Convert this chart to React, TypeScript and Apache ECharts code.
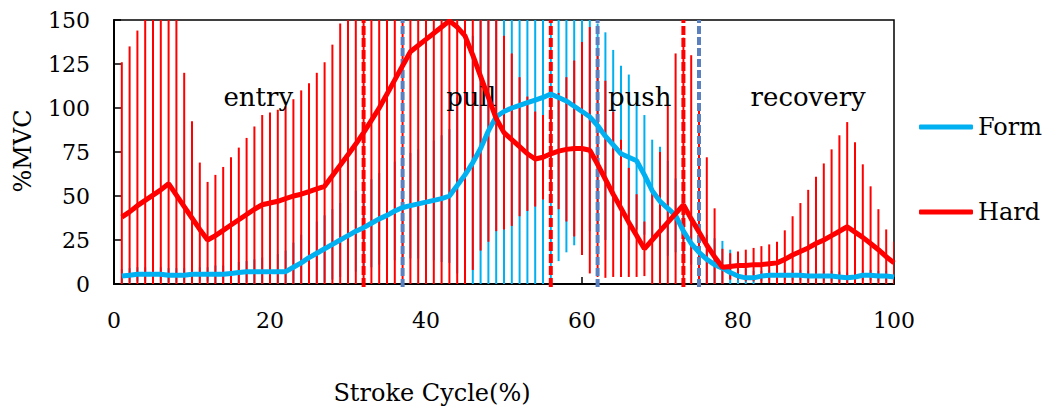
import React, { useEffect, useRef } from "react";
import * as echarts from "echarts";

// Stroke cycle positions (%), one sample per percent
const strokeCycle: number[] = Array.from({ length: 100 }, (_, i) => i + 1);

// Form (mean %MVC and SD)
const formMean: number[] = [
  4.5, 5, 5.5, 5.5, 5.5, 5.5, 5, 5, 5, 5.5,
  5.5, 5.5, 5.5, 5.5, 6, 6.5, 7, 7, 7, 7,
  7, 7, 9.5, 12, 15, 17.5, 20, 22.5, 25, 27.5,
  30, 32, 34.5, 37, 39, 41.5, 43.5, 44.5, 45.5, 46.5,
  47.5, 48.5, 50, 56, 62, 69, 77, 87, 95, 98,
  100, 101.5, 103, 104.5, 106, 108, 106, 104, 101, 98,
  95, 90, 84, 79, 74, 72, 70, 62, 53, 47,
  43, 39, 30, 23, 18, 14, 11, 9, 6.5, 4.5,
  3.5, 3.5, 4.5, 5, 5, 5, 5, 5, 4.5, 4.5,
  4.5, 4.5, 4, 3.5, 4, 5, 5, 4.5, 4.5, 4,
];
const formSD: number[] = [
  4, 4, 4, 4, 4, 4, 4, 4, 4, 4,
  4, 4, 5, 5, 5, 6, 6, 7, 8, 9,
  10, 12, 14, 16, 17, 18, 19, 20, 21, 22,
  23, 24, 25, 26, 27, 28, 29, 30, 31, 32,
  34, 36, 38, 50, 62, 72, 80, 90, 98, 100,
  102, 104, 106, 107, 108, 105, 93, 86, 79, 72,
  65, 58, 59, 54, 50, 47, 39, 34, 29, 31,
  27, 21, 15, 12, 12, 14, 15, 15.5, 13, 9.5,
  5, 4, 3, 3, 3, 3, 3, 3, 3, 3,
  3, 3, 3, 3, 3, 3, 3, 3, 3, 3,
];

// Hard (mean %MVC and SD)
const hardMean: number[] = [
  38, 41, 44.5, 47.5, 50.5, 53.5, 57, 50.5, 44, 37.5,
  31, 25, 27.5, 30.5, 33.5, 36.5, 39.5, 42.5, 45, 46,
  47, 48.5, 50, 51, 52.5, 54, 55.5, 61.5, 67.5, 73.5,
  79.5, 86, 93, 100, 108, 116, 124, 132, 135.5, 139,
  142.5, 146, 149.5, 146, 141, 130, 118, 106, 94, 86,
  82, 78, 74, 71, 72, 74, 75.5, 76.5, 77, 77,
  76, 68, 59.5, 51, 43, 35, 27.5, 20, 25, 30,
  35, 40, 45, 37, 29.5, 22, 15.5, 9.5, 10, 10.5,
  10.5, 11, 11, 11.5, 12, 14, 16.5, 18.5, 20.5, 23,
  25, 27.5, 30, 32.5, 29.5, 26.5, 23, 19.5, 15.5, 12,
];
const hardSD: number[] = [
  88, 94, 99.5, 110, 115, 120, 118, 110, 76, 55,
  38, 33, 34.5, 36, 38.5, 41, 43.5, 47, 51, 51.5,
  52, 52.5, 55, 59, 61.5, 66, 70.5, 74.5, 80.5, 85,
  90, 95, 100, 105, 110, 118, 126, 134, 137, 140,
  143, 147, 150, 147, 142, 122, 99, 82, 64, 55,
  49, 39.5, 32.5, 27, 24, 27, 33, 41, 50, 60.5,
  70, 64, 56, 47, 39, 31, 23.5, 15.5, 28, 45,
  66.5, 91, 95, 93, 70, 50, 27.5, 10.5, 7.5, 8,
  9, 9.5, 10.5, 11, 12, 16.5, 22, 27.5, 33, 38,
  43.5, 49, 54.5, 59.5, 51, 41.5, 32.5, 23, 15.5, 12,
];

// Phase boundaries (% of stroke cycle)
const hardBoundaries: number[] = [32, 56, 73];
const formBoundaries: number[] = [37, 62, 75];

// Phase labels
const phaseNames: string[] = ["entry", "pull", "push", "recovery"];
const phaseX: number[] = [18.5, 45.8, 67.4, 89];
const phaseY: number[] = [106.5, 106.5, 106.5, 106.5];

const yTicks: number[] = [0, 25, 50, 75, 100, 125, 150];
const xTicks: number[] = [0, 20, 40, 60, 80, 100];

const FORM_COLOR = "#00B0F0";
const HARD_COLOR = "#FF0000";
const FORM_DASH = "#5B80C0";
const FONT = '"DejaVu Serif", serif';

const Y_MIN = yTicks[0];
const Y_MAX = yTicks[yTicks.length - 1];

function errorBars(name: string, mean: number[], sd: number[], color: string, z: number) {
  return {
    type: "custom",
    name,
    silent: true,
    z,
    clip: true,
    encode: { x: 0, y: [1, 2] },
    data: strokeCycle.map((x, i) => [
      x,
      Math.max(mean[i] - sd[i], Y_MIN),
      Math.min(mean[i] + sd[i], Y_MAX),
    ]),
    renderItem: (params: any, api: any) => {
      const a = api.coord([api.value(0), api.value(1)]);
      const b = api.coord([api.value(0), api.value(2)]);
      return {
        type: "line",
        shape: { x1: a[0], y1: a[1], x2: b[0], y2: b[1] },
        style: { stroke: color, lineWidth: 2 },
      };
    },
  };
}

function boundaryLines(name: string, xs: number[], color: string, dash: number[], z: number) {
  return {
    type: "custom",
    name,
    silent: true,
    z,
    clip: false,
    encode: { x: 0, y: 1 },
    data: xs.map((x) => [x, Y_MIN]),
    renderItem: (params: any, api: any) => {
      const a = api.coord([api.value(0), Y_MIN]);
      const b = api.coord([api.value(0), Y_MAX]);
      return {
        type: "line",
        z2: 10,
        shape: { x1: a[0], y1: a[1] + 3, x2: b[0], y2: b[1] },
        style: { stroke: color, lineWidth: 4, lineDash: dash, lineCap: "butt" },
      };
    },
  };
}

export default function App() {
  const ref = useRef<HTMLDivElement>(null);

  useEffect(() => {
    if (!ref.current) return;
    const chart = echarts.init(ref.current, undefined, { renderer: "svg" });

    const option: any = {
      animation: false,
      backgroundColor: "#ffffff",
      grid: {
        left: 114,
        right: 154,
        top: 20,
        bottom: 128,
        show: true,
        borderColor: "#000",
        borderWidth: 1.5,
        backgroundColor: "transparent",
      },
      xAxis: {
        type: "value",
        min: xTicks[0],
        max: xTicks[xTicks.length - 1],
        interval: 20,
        axisLine: { show: true, onZero: false, lineStyle: { color: "#000", width: 2 } },
        axisTick: { show: true, inside: true, length: 7, lineStyle: { color: "#000", width: 1.5 } },
        axisLabel: { color: "#000", fontFamily: FONT, fontSize: 22, margin: 25 },
        splitLine: { show: false },
      },
      yAxis: {
        type: "value",
        min: Y_MIN,
        max: Y_MAX,
        interval: 25,
        axisLine: { show: true, lineStyle: { color: "#000", width: 2 } },
        axisTick: { show: true, inside: true, length: 7, lineStyle: { color: "#000", width: 1.5 } },
        axisLabel: { color: "#000", fontFamily: FONT, fontSize: 22, margin: 24 },
        splitLine: { show: false },
      },
      legend: {
        data: ["Form", "Hard"],
        orient: "vertical",
        left: 919,
        top: 115,
        padding: 0,
        itemWidth: 54,
        itemHeight: 5,
        itemGap: 61,
        icon: "roundRect",
        textStyle: { color: "#000", fontFamily: FONT, fontSize: 24 },
      },
      graphic: [
        {
          type: "text",
          x: 432,
          y: 393,
          style: {
            text: "Stroke Cycle(%)",
            font: '24px "DejaVu Serif", serif',
            fill: "#000",
            align: "center",
            verticalAlign: "middle",
          },
        },
        {
          type: "text",
          x: 23,
          y: 151,
          rotation: Math.PI / 2,
          style: {
            text: "%MVC",
            font: '24px "DejaVu Serif", serif',
            fill: "#000",
            align: "center",
            verticalAlign: "middle",
          },
        },
      ],
      series: [
        errorBars("Form SD", formMean, formSD, FORM_COLOR, 2),
        errorBars("Hard SD", hardMean, hardSD, HARD_COLOR, 3),
        boundaryLines("Hard phases", hardBoundaries, HARD_COLOR, [9, 3], 4),
        boundaryLines("Form phases", formBoundaries, FORM_DASH, [8, 3], 4),
        {
          type: "custom",
          name: "Phases",
          silent: true,
          z: 5,
          clip: false,
          encode: { x: 0, y: 1 },
          data: phaseX.map((x, i) => [x, phaseY[i]]),
          renderItem: (params: any, api: any) => {
            const p = api.coord([api.value(0), api.value(1)]);
            return {
              type: "text",
              x: p[0],
              y: p[1],
              style: {
                text: phaseNames[params.dataIndex],
                font: '26px "DejaVu Serif", serif',
                fill: "#000",
                align: "center",
                verticalAlign: "middle",
              },
            };
          },
        },
        {
          type: "line",
          name: "Form",
          z: 6,
          symbol: "none",
          color: FORM_COLOR,
          lineStyle: { color: FORM_COLOR, width: 5 },
          itemStyle: { color: FORM_COLOR },
          data: strokeCycle.map((x, i) => [x, formMean[i]]),
        },
        {
          type: "line",
          name: "Hard",
          z: 7,
          symbol: "none",
          color: HARD_COLOR,
          lineStyle: { color: HARD_COLOR, width: 5 },
          itemStyle: { color: HARD_COLOR },
          data: strokeCycle.map((x, i) => [x, hardMean[i]]),
        },
      ],
    };

    chart.setOption(option);
    return () => chart.dispose();
  }, []);

  return (
    <div
      ref={ref}
      style={{ position: "fixed", left: 0, top: 0, width: 1048, height: 412, background: "#fff" }}
    />
  );
}
